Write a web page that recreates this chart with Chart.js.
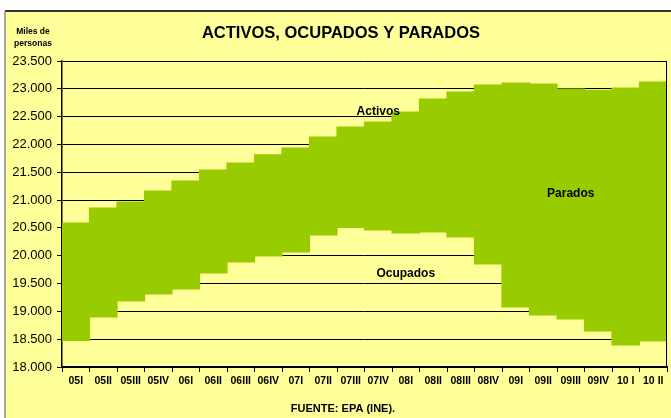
<!DOCTYPE html>
<html>
<head>
<meta charset="utf-8">
<script src="https://cdn.jsdelivr.net/npm/chart.js@4/dist/chart.umd.min.js"></script>
<style>
html,body{margin:0;padding:0;background:#fff;}
#wrap{position:relative;width:671px;height:418px;}
</style>
</head>
<body>
<div id="wrap"><canvas id="c" width="671" height="418"></canvas></div>
<script>
const categories = ['05I','05II','05III','05IV','06I','06II','06III','06IV','07I','07II','07III','07IV','08I','08II','08III','08IV','09I','09II','09III','09IV','10 I','10 II'];
const activos = [20588, 20858, 20966, 21163, 21343, 21541, 21667, 21811, 21936, 22134, 22314, 22404, 22583, 22817, 22943, 23068, 23105, 23087, 22993, 22973, 23015, 23122];
const ocupados = [18480, 18899, 19186, 19312, 19402, 19690, 19887, 19995, 20067, 20373, 20510, 20462, 20409, 20427, 20337, 19851, 19078, 18935, 18863, 18647, 18395, 18467];
const yMin = 18000, yMax = 23500, yStep = 500;
const title = 'ACTIVOS, OCUPADOS Y PARADOS';
const unitLines = ['Miles de', 'personas'];
const source = 'FUENTE: EPA (INE).';
// annotation labels: [text, category index, value]
const areaLabels = [['Activos', 11, 22590], ['Ocupados', 12, 19680], ['Parados', 18, 21120]];

const FONT = '"Liberation Sans", Arial, sans-serif';
const fmt = v => String(v).replace(/\B(?=(\d{3})+(?!\d))/g, '.');

const decor = {
  id: 'decor',
  beforeDraw(chart) {
    const ctx = chart.ctx;
    ctx.save();
    ctx.fillStyle = '#ffffff';
    ctx.fillRect(0, 0, chart.width, chart.height);
    ctx.fillStyle = '#FFFF99';
    ctx.fillRect(5, 11, chart.width - 5, chart.height - 11);
    ctx.strokeStyle = '#333333';
    ctx.lineWidth = 2;
    ctx.beginPath(); ctx.moveTo(5, 11); ctx.lineTo(chart.width, 11); ctx.stroke();
    ctx.strokeStyle = '#8a8a8a';
    ctx.lineWidth = 1.5;
    ctx.beginPath(); ctx.moveTo(5, 11); ctx.lineTo(5, chart.height); ctx.stroke();
    ctx.restore();
  },
  afterDraw(chart) {
    const ctx = chart.ctx, a = chart.chartArea;
    const xs = chart.scales.x, ys = chart.scales.y;
    ctx.save();
    ctx.strokeStyle = '#000';
    ctx.lineWidth = 1;
    ctx.beginPath(); ctx.moveTo(a.right - 0.5, a.top); ctx.lineTo(a.right - 0.5, a.bottom); ctx.stroke();
    ctx.fillStyle = '#000';
    ctx.textAlign = 'center';
    ctx.textBaseline = 'middle';
    ctx.font = 'bold 16.5px ' + FONT;
    ctx.fillText(title, 341, 33);
    ctx.font = 'bold 8.5px ' + FONT;
    ctx.fillText(unitLines[0], 33, 32);
    ctx.fillText(unitLines[1], 33, 44);
    ctx.font = 'bold 11px ' + FONT;
    ctx.fillText(source, 343, 409);
    ctx.font = 'bold 12px ' + FONT;
    areaLabels.forEach(([t, i, v]) => {
      ctx.fillText(t, xs.getPixelForValue(i), ys.getPixelForValue(v));
    });
    ctx.restore();
  }
};

new Chart(document.getElementById('c'), {
  type: 'bar',
  data: {
    labels: categories,
    datasets: [{
      data: categories.map((c, i) => [ocupados[i], activos[i]]),
      backgroundColor: '#99CC00',
      borderWidth: 0,
      categoryPercentage: 1,
      barPercentage: 1,
      inflateAmount: 0.6
    }]
  },
  options: {
    responsive: false,
    animation: false,
    devicePixelRatio: 1,
    layout: { padding: { left: 0, top: 61, right: 4, bottom: 0 } },
    plugins: { legend: { display: false }, tooltip: { enabled: false }, title: { display: false } },
    scales: {
      x: {
        grid: { display: true, drawOnChartArea: false, offset: true, color: '#000', tickLength: 5, lineWidth: 1 },
        border: { display: true, color: '#000', width: 2 },
        ticks: { color: '#000', font: { family: FONT, size: 10.5, weight: 'bold' }, padding: 3, maxRotation: 0, autoSkip: false },
        afterFit(s) { s.height = 51; }
      },
      y: {
        min: yMin, max: yMax,
        grid: { color: '#000', lineWidth: 1, tickLength: 5 },
        border: { display: true, color: '#000', width: 1.5 },
        ticks: { stepSize: yStep, color: '#000', font: { family: FONT, size: 13 }, padding: 5, callback: v => fmt(v) },
        afterFit(s) { s.width = 62; }
      }
    }
  },
  plugins: [decor]
});
</script>
</body>
</html>
